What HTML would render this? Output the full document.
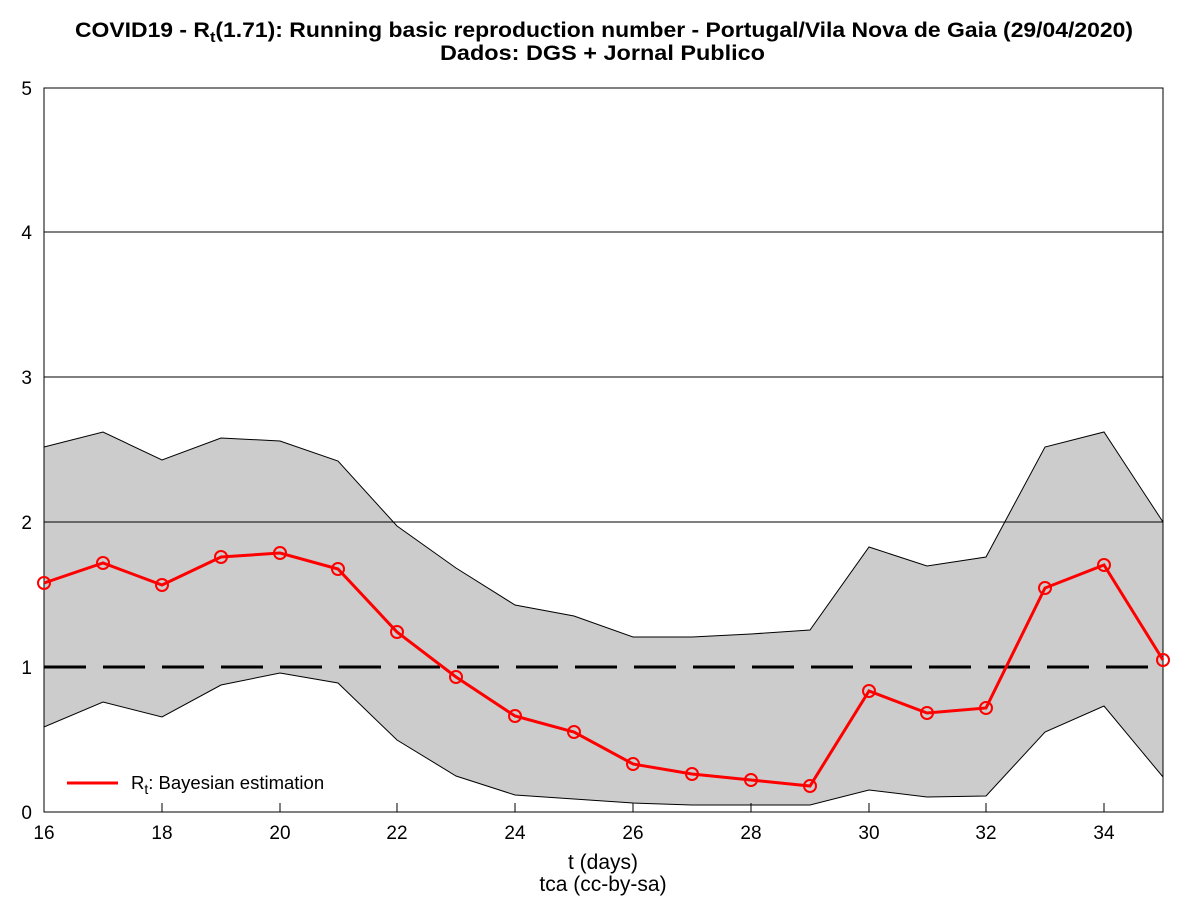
<!DOCTYPE html>
<html><head><meta charset="utf-8"><style>body{margin:0;background:#fff}svg{display:block}text{font-family:"Liberation Sans",sans-serif}</style></head><body>
<svg width="1200" height="900" viewBox="0 0 1200 900" xmlns="http://www.w3.org/2000/svg">
<rect width="1200" height="900" fill="#fff"/>
<text x="75" y="37" font-size="21" font-weight="bold" textLength="1058" lengthAdjust="spacingAndGlyphs">COVID19 - R<tspan font-size="15" dy="5">t</tspan><tspan dy="-5">(1.71): Running basic reproduction number - Portugal/Vila Nova de Gaia (29/04/2020)</tspan></text>
<text x="440" y="60" font-size="21" font-weight="bold" textLength="325" lengthAdjust="spacingAndGlyphs">Dados: DGS + Jornal Publico</text>
<polygon fill="#cccccc" stroke="#000" stroke-width="1" points="44,447 103,432 162,460 221,438 280,441 338,461 397,526 456,568 515,605 574,616 633,637 692,637 751,634 810,630 869,547 927,566 986,557 1045,447 1104,432 1163,522 1163,777 1104,706 1045,732 986,796 927,797 869,790 810,805 751,805 692,805 633,803 574,799 515,795 456,776 397,740 338,683 280,673 221,685 162,717 103,702 44,727"/>
<g stroke="#000" stroke-width="1">
<line x1="44" y1="232" x2="1163" y2="232"/><line x1="44" y1="377" x2="1163" y2="377"/><line x1="44" y1="522" x2="1163" y2="522"/>
</g>
<line x1="44" y1="667" x2="1163" y2="667" stroke="#000" stroke-width="3" stroke-dasharray="42,17"/>
<rect x="44" y="88" width="1119" height="724" fill="none" stroke="#000" stroke-width="1"/>
<polyline fill="none" stroke="#f00" stroke-width="3" points="44,583 103,563 162,585 221,557 280,553 338,569 397,632 456,677 515,716 574,732 633,764 692,774 751,780 810,786 869,691 927,713 986,708 1045,588 1104,565 1163,660"/>
<g fill="none" stroke="#f00" stroke-width="2">
<circle cx="44" cy="583" r="6"/><circle cx="103" cy="563" r="6"/><circle cx="162" cy="585" r="6"/><circle cx="221" cy="557" r="6"/><circle cx="280" cy="553" r="6"/><circle cx="338" cy="569" r="6"/><circle cx="397" cy="632" r="6"/><circle cx="456" cy="677" r="6"/><circle cx="515" cy="716" r="6"/><circle cx="574" cy="732" r="6"/><circle cx="633" cy="764" r="6"/><circle cx="692" cy="774" r="6"/><circle cx="751" cy="780" r="6"/><circle cx="810" cy="786" r="6"/><circle cx="869" cy="691" r="6"/><circle cx="927" cy="713" r="6"/><circle cx="986" cy="708" r="6"/><circle cx="1045" cy="588" r="6"/><circle cx="1104" cy="565" r="6"/><circle cx="1163" cy="660" r="6"/>
</g>
<g stroke="#000" stroke-width="1">
<line x1="162" y1="812" x2="162" y2="803"/><line x1="280" y1="812" x2="280" y2="803"/><line x1="397" y1="812" x2="397" y2="803"/><line x1="515" y1="812" x2="515" y2="803"/><line x1="633" y1="812" x2="633" y2="803"/><line x1="751" y1="812" x2="751" y2="803"/><line x1="869" y1="812" x2="869" y2="803"/><line x1="986" y1="812" x2="986" y2="803"/><line x1="1104" y1="812" x2="1104" y2="803"/>
</g>
<g font-size="19" text-anchor="middle">
<text x="44" y="839">16</text><text x="162" y="839">18</text><text x="280" y="839">20</text><text x="397" y="839">22</text><text x="515" y="839">24</text><text x="633" y="839">26</text><text x="751" y="839">28</text><text x="869" y="839">30</text><text x="986" y="839">32</text><text x="1104" y="839">34</text>
</g>
<g font-size="19" text-anchor="end">
<text x="32" y="819">0</text><text x="32" y="674">1</text><text x="32" y="529">2</text><text x="32" y="384">3</text><text x="32" y="239">4</text><text x="32" y="95">5</text>
</g>
<text x="603" y="869" text-anchor="middle" font-size="21">t (days)</text>
<text x="603" y="891" text-anchor="middle" font-size="21">tca (cc-by-sa)</text>
<line x1="67" y1="783" x2="118" y2="783" stroke="#f00" stroke-width="3"/>
<text x="131" y="789" font-size="18.5">R<tspan font-size="14" dy="5">t</tspan><tspan dy="-5">: Bayesian estimation</tspan></text>
</svg>
</body></html>
